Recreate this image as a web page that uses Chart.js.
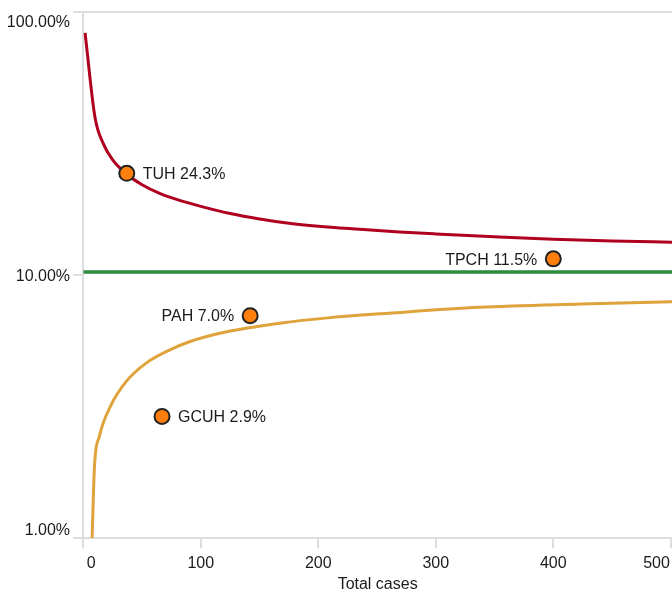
<!DOCTYPE html>
<html>
<head>
<meta charset="utf-8">
<script src="https://cdn.jsdelivr.net/npm/chart.js@4/dist/chart.umd.min.js"></script>
<style>
  html, body { margin: 0; padding: 0; background: #fff; }
  #wrap { width: 672px; height: 592px; }
</style>
</head>
<body>
<div id="wrap"><canvas id="c" width="672" height="592"></canvas></div>
<script>
// Funnel plot: complication rate (%) against total cases per hospital
const hospitals = ['TUH', 'GCUH', 'PAH', 'TPCH'];
const hospitalCases = [37, 67, 142, 400];
const hospitalRates = [24.3, 2.9, 7.0, 11.5];
const labelSide = ['right', 'right', 'left', 'left'];

// Upper control limit (cases, %)
const upperCases = [1.5, 10, 17, 25, 37, 50, 65, 80, 100, 125, 150, 175, 200, 235, 269, 300, 350, 400, 450, 501];
const upperRates = [83, 39.5, 31.5, 27.3, 24.1, 22.0, 20.4, 19.3, 18.2, 17.1, 16.3, 15.7, 15.3, 14.9, 14.55, 14.3, 13.95, 13.65, 13.45, 13.3];

// Lower control limit (cases, %)
const lowerCases = [7.5, 9.5, 13.6, 23.6, 36.4, 53.4, 73.3, 90.3, 120, 167, 210, 260, 337, 423, 501];
const lowerRates = [1.0, 1.87, 2.43, 3.2, 3.93, 4.62, 5.18, 5.57, 6.05, 6.55, 6.88, 7.15, 7.53, 7.75, 7.91];

// Overall (target) rate
const targetRate = 10.25;

// Axis ticks
const xTicks = [0, 100, 200, 300, 400, 500];
const yTicks = [1, 10, 100];
const yTickLabels = ['1.00%', '10.00%', '100.00%'];
const xTitle = 'Total cases';

const FONT = '16px "Liberation Sans", Arial, sans-serif';
const AXIS = '#dddddd';
const TEXT = '#1b1b1b';

const toXY = (xs, ys) => xs.map((x, i) => ({ x, y: ys[i] }));

// Axis labels (flush at the ends) and point annotations
const labelPlugin = {
  id: 'labels',
  afterDraw(chart) {
    const { ctx, scales: { x, y } } = chart;
    ctx.save();
    ctx.font = FONT;
    ctx.fillStyle = TEXT;
    ctx.textBaseline = 'alphabetic';

    // y tick labels
    ctx.textAlign = 'right';
    yTicks.forEach((v, i) => {
      const py = y.getPixelForValue(v);
      let by = py + 5.8;
      if (i === 0) by = py - 3;
      if (i === yTicks.length - 1) by = py + 15;
      ctx.fillText(yTickLabels[i], 70, by);
    });

    // x tick labels
    xTicks.forEach((v, i) => {
      const px = x.getPixelForValue(v);
      if (i === 0) { ctx.textAlign = 'left'; ctx.fillText(String(v), px + 3.5, 567.5); }
      else if (i === xTicks.length - 1) { ctx.textAlign = 'right'; ctx.fillText(String(v), px - 1, 567.5); }
      else { ctx.textAlign = 'center'; ctx.fillText(String(v), px, 567.5); }
    });

    // x title
    ctx.textAlign = 'center';
    ctx.fillText(xTitle, (chart.chartArea.left + chart.chartArea.right) / 2, 589);

    // hospital labels
    hospitals.forEach((h, i) => {
      const px = x.getPixelForValue(hospitalCases[i]);
      const py = y.getPixelForValue(hospitalRates[i]);
      const txt = h + ' ' + hospitalRates[i].toFixed(1) + '%';
      if (labelSide[i] === 'right') { ctx.textAlign = 'left'; ctx.fillText(txt, px + 16, py + 5.8); }
      else { ctx.textAlign = 'right'; ctx.fillText(txt, px - 16, py + 5.8); }
    });
    ctx.restore();
  }
};

new Chart(document.getElementById('c'), {
  type: 'scatter',
  data: {
    datasets: [
      {
        label: 'Hospitals',
        data: toXY(hospitalCases, hospitalRates),
        backgroundColor: '#ff7f0e',
        borderColor: '#222222',
        borderWidth: 2,
        pointRadius: 7.5,
        pointHoverRadius: 7.5,
        order: 0
      },
      {
        label: 'Upper limit',
        data: toXY(upperCases, upperRates),
        showLine: true,
        borderColor: '#b00020',
        borderWidth: 3,
        pointRadius: 0,
        cubicInterpolationMode: 'monotone',
        order: 1
      },
      {
        label: 'Lower limit',
        data: toXY(lowerCases, lowerRates),
        showLine: true,
        borderColor: '#dfa33c',
        borderWidth: 3,
        pointRadius: 0,
        cubicInterpolationMode: 'monotone',
        order: 1
      },
      {
        label: 'Target',
        data: [{ x: 0, y: targetRate }, { x: 501, y: targetRate }],
        showLine: true,
        borderColor: '#2e8b3e',
        borderWidth: 3.5,
        pointRadius: 0,
        order: 1
      }
    ]
  },
  options: {
    responsive: false,
    animation: false,
    events: [],
    layout: { autoPadding: false, padding: { top: 11.5, left: 0, right: 0, bottom: 0 } },
    plugins: { legend: { display: false }, tooltip: { enabled: false } },
    scales: {
      x: {
        type: 'linear',
        min: 0,
        max: 501,
        afterBuildTicks: s => { s.ticks = xTicks.map(v => ({ value: v })); },
        afterFit: s => { s.height = 53.8; s.paddingLeft = 0; s.paddingRight = 0; },
        ticks: { display: false },
        grid: { color: 'transparent', tickColor: AXIS, tickLength: 10, lineWidth: 2 },
        border: { color: AXIS, width: 2 }
      },
      y: {
        type: 'logarithmic',
        min: 1,
        max: 100,
        afterBuildTicks: s => { s.ticks = yTicks.map(v => ({ value: v })); },
        afterFit: s => { s.width = 83.3; s.paddingTop = 0; s.paddingBottom = 0; },
        ticks: { display: false },
        grid: {
          color: c => (c.tick && c.tick.value === 100 ? AXIS : 'transparent'),
          tickColor: AXIS, tickLength: 10, lineWidth: 2
        },
        border: { color: AXIS, width: 2 }
      }
    }
  },
  plugins: [labelPlugin]
});
</script>
</body>
</html>
